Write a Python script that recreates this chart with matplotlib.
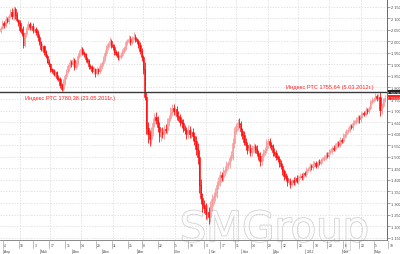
import matplotlib
matplotlib.use("Agg")
import matplotlib.pyplot as plt
import matplotlib.transforms as mtransforms
import matplotlib.patheffects as pe
from matplotlib.ticker import FixedLocator, MultipleLocator, FuncFormatter

plt.rcParams["font.family"] = ["Liberation Sans", "DejaVu Sans"]

# daily closes of the RTS index, one per trading session
closes = [
    2058, 2080, 2070, 2095, 2088, 2110, 2125, 2108, 2140, 2115,
    2092, 2078, 2050, 2035, 1982, 2030, 2055, 2075, 2060, 2068,
    2048, 2055, 2040, 2018, 1995, 1968, 1980, 1952, 1938, 1912,
    1900, 1880, 1870, 1858, 1865, 1842, 1838, 1812, 1795, 1822,
    1848, 1870, 1895, 1910, 1902, 1918, 1888, 1905, 1938, 1952,
    1966, 1948, 1945, 1922, 1915, 1892, 1888, 1872, 1878, 1862,
    1878, 1870, 1892, 1905, 1925, 1948, 1975, 1988, 2000, 1982,
    1975, 1952, 1946, 1930, 1932, 1942, 1958, 1972, 1995, 2002,
    2012, 1998, 2016, 2020, 2008, 2000, 1985, 1958, 1930, 1880,
    1760, 1625, 1598, 1575, 1615, 1648, 1672, 1660, 1630, 1590,
    1608, 1600, 1622, 1618, 1652, 1668, 1695, 1712, 1698, 1705,
    1678, 1672, 1650, 1645, 1622, 1615, 1598, 1618, 1600, 1608,
    1588, 1570, 1535, 1498, 1380, 1322, 1290, 1280, 1252, 1262,
    1238, 1285, 1318, 1330, 1345, 1380, 1392, 1420, 1412, 1438,
    1445, 1465, 1472, 1495, 1505, 1558, 1612, 1632, 1645, 1640,
    1612, 1595, 1565, 1550, 1530, 1540, 1522, 1538, 1545, 1535,
    1518, 1505, 1480, 1502, 1522, 1530, 1558, 1568, 1550, 1545,
    1522, 1518, 1500, 1492, 1472, 1462, 1438, 1418, 1408, 1390,
    1395, 1382, 1398, 1392, 1408, 1395, 1412, 1418, 1412, 1428,
    1425, 1445, 1448, 1462, 1455, 1468, 1472, 1462, 1478, 1475,
    1485, 1492, 1498, 1510, 1505, 1522, 1525, 1538, 1535, 1550,
    1558, 1552, 1572, 1570, 1592, 1598, 1612, 1618, 1632, 1628,
    1648, 1652, 1660, 1672, 1662, 1680, 1688, 1685, 1702, 1698,
    1712, 1738, 1748, 1750, 1762, 1755, 1760, 1702, 1722, 1748,
    1755.64,
]
first_open = 2045

# how far each session's high / low reached past its body
wick_hi = [
    8, 12, 6, 15, 10, 9, 14, 20, 12, 8, 10, 6, 12, 9, 30, 10, 8, 12, 7, 10,
    9, 12, 8, 10, 14, 8, 12, 6, 10, 9, 12, 8, 6, 10, 12, 8, 10, 6, 9, 15,
    12, 10, 8, 14, 10, 12, 8, 15, 10, 9, 12, 8, 10, 6, 12, 9, 8, 10, 12, 8,
    10, 8, 12, 9, 10, 14, 10, 8, 18, 10, 8, 12, 9, 10, 8, 12, 10, 9, 12, 8,
    15, 10, 8, 20, 10, 8, 12, 10, 14, 12, 30, 20, 25, 18, 15, 20, 18, 22, 15, 20,
    18, 22, 15, 20, 18, 15, 20, 15, 18, 12, 15, 20, 14, 12, 18, 15, 12, 20, 15, 12,
    15, 18, 20, 25, 30, 22, 20, 25, 18, 30, 20, 25, 20, 18, 22, 15, 20, 18, 15, 20,
    15, 18, 12, 15, 20, 25, 18, 15, 20, 25, 15, 12, 18, 15, 12, 18, 14, 12, 15, 12,
    15, 12, 18, 15, 12, 14, 18, 12, 15, 12, 10, 14, 12, 10, 12, 15, 12, 10, 12, 14,
    10, 12, 8, 14, 10, 12, 8, 10, 12, 8, 10, 12, 8, 10, 9, 12, 8, 10, 8, 12,
    10, 8, 12, 9, 10, 12, 8, 10, 12, 8, 10, 9, 12, 8, 10, 12, 8, 10, 12, 9,
    10, 8, 12, 10, 9, 12, 8, 10, 12, 9, 10, 8, 12, 10, 15, 10, 12, 20, 10, 8,
    10,
]
wick_lo = [
    10, 6, 12, 8, 10, 14, 8, 10, 15, 20, 10, 12, 8, 10, 12, 8, 10, 6, 12, 9,
    10, 8, 12, 15, 10, 12, 8, 10, 12, 8, 10, 14, 8, 10, 12, 8, 10, 15, 12, 8,
    10, 12, 8, 10, 14, 9, 12, 10, 8, 12, 10, 8, 12, 10, 9, 12, 8, 10, 12, 15,
    10, 12, 8, 10, 12, 9, 10, 12, 8, 10, 14, 10, 8, 12, 10, 9, 12, 8, 10, 9,
    10, 12, 8, 10, 12, 10, 14, 12, 15, 20, 15, 25, 40, 30, 20, 25, 18, 20, 22, 25,
    20, 18, 25, 15, 20, 18, 15, 20, 18, 15, 20, 15, 18, 20, 15, 18, 20, 15, 18, 20,
    18, 20, 25, 30, 35, 25, 30, 25, 20, 25, 30, 20, 18, 22, 20, 25, 18, 20, 15, 18,
    20, 15, 18, 20, 15, 18, 20, 15, 18, 15, 20, 18, 15, 20, 18, 15, 20, 18, 15, 18,
    15, 18, 20, 15, 18, 14, 15, 18, 14, 15, 18, 14, 12, 15, 18, 14, 15, 18, 12, 15,
    12, 15, 10, 12, 14, 10, 12, 10, 14, 12, 10, 12, 10, 14, 10, 12, 10, 12, 10, 12,
    10, 12, 9, 10, 12, 8, 10, 12, 9, 10, 12, 8, 10, 12, 9, 10, 12, 8, 10, 9,
    12, 10, 8, 12, 14, 10, 12, 9, 10, 12, 8, 10, 9, 12, 10, 12, 10, 25, 15, 10,
    10,
]

level = 1780.38
level_text = "Индекс РТС 1780,38 (23.05.2011г.)"
last_text = "Индекс РТС 1755,64 (5.03.2012г.)"
level_label = "1 780,38"
last_label = "1 755,64"

month_pos = [2, 25, 45, 64, 86, 109, 131, 151, 171, 191, 214, 234]
month_labels = ["Апр", "Май", "Июн", "Июл", "Авг", "Сен", "Окт", "Ноя",
                "Дек", "2012", "Фев", "Мар"]
day_pos = [2, 12, 21, 31, 41, 50, 60, 70, 80, 89, 99, 109, 118, 128, 138,
           147, 157, 167, 176, 186, 196, 205, 215, 225, 234, 243]
day_labels = ["4", "18", "3", "17", "31", "14", "28", "11", "25", "8", "22",
              "5", "19", "3", "17", "31", "14", "28", "12", "26", "10", "23",
              "6", "20", "5", "19"]

UP = "#f59a9a"
DOWN = "#ff0d0d"

fig = plt.figure(figsize=(4, 2.55), dpi=100)
ax = fig.add_axes([0, 1 - 241 / 255, 387 / 400, 241 / 255])

opens = [first_open] + closes[:-1]
for i, (o, c) in enumerate(zip(opens, closes)):
    color = UP if c >= o else DOWN
    lo_b, hi_b = min(o, c), max(o, c)
    ax.vlines(i, lo_b - wick_lo[i], hi_b + wick_hi[i], color=color,
              lw=0.6, zorder=2)
    h = max(hi_b - lo_b, 4)
    ax.bar(i, h, bottom=lo_b, width=0.8, color=color,
           edgecolor=color, linewidth=0.4, zorder=3)

ax.axhline(level, color="#3a3a3a", lw=1.0, zorder=4)

ax.text(15, level - 14, level_text, color="#ff2020", fontsize=4.1,
        va="top", ha="left", zorder=5)
ax.text(178, level + 12, last_text, color="#ff2020", fontsize=4.1,
        va="bottom", ha="left", zorder=5)

ax.text(171, 1186, "SMGroup", fontsize=30, family="DejaVu Sans",
        color="#fdfdfd", ha="center", va="center", zorder=1, clip_on=False,
        path_effects=[pe.withStroke(linewidth=1.2, foreground="#d2d2d2")])

ax.set_xlim(-0.5, 241.4)
ax.set_ylim(1140, 2183)

# right price scale
ax.yaxis.tick_right()
ax.yaxis.set_major_locator(MultipleLocator(50))
ax.yaxis.set_minor_locator(MultipleLocator(10))
ax.yaxis.set_major_formatter(
    FuncFormatter(lambda v, p: f"{int(v):,}".replace(",", " ")))
ax.tick_params(axis="y", which="major", labelsize=2.8, length=2, width=0.4,
               pad=1, colors="#555555", labelcolor="#444444")
ax.tick_params(axis="y", which="minor", length=1, width=0.3, colors="#777777")

ax.xaxis.set_major_locator(FixedLocator(day_pos[1::2]))
ax.tick_params(axis="x", which="both", length=0, labelbottom=False)
ax.grid(True, color="#d8d8d8", lw=0.5, ls=(0, (2, 2)), zorder=0)

for side in ["left", "top"]:
    ax.spines[side].set_visible(False)
ax.spines["right"].set_color("#555555")
ax.spines["right"].set_linewidth(0.6)
ax.spines["bottom"].set_color("#777777")
ax.spines["bottom"].set_linewidth(0.6)

# markers on the price scale
for val, lab, bg in [(level, level_label, "#222222"),
                     (closes[-1], last_label, "#ff2020")]:
    ax.annotate(lab, xy=(1.0, val), xycoords=("axes fraction", "data"),
                xytext=(1.0, 0), textcoords="offset points",
                fontsize=2.2, color="white", va="center", ha="left",
                bbox=dict(boxstyle="square,pad=0.12", fc=bg, ec="none"),
                annotation_clip=False, zorder=6)

# two-row date scale
trans = mtransforms.blended_transform_factory(ax.transData, ax.transAxes)
row1 = -5.5 / 241
row2 = -11.5 / 241
for x, lab in zip(day_pos, day_labels):
    ax.plot([x - 0.8, x - 0.8], [-1 / 241, -8 / 241], color="#888888",
            lw=0.4, transform=trans, clip_on=False)
    ax.text(x, row1, lab, fontsize=2.4, color="#444444", transform=trans,
            ha="left", va="center", clip_on=False)
for x, lab in zip(month_pos, month_labels):
    ax.plot([x - 0.8, x - 0.8], [-9 / 241, -14 / 241], color="#888888",
            lw=0.4, transform=trans, clip_on=False)
    ax.text(x, row2, lab, fontsize=2.4, color="#444444", transform=trans,
            ha="left", va="center", clip_on=False)

fig.savefig("out.png", dpi=100)
